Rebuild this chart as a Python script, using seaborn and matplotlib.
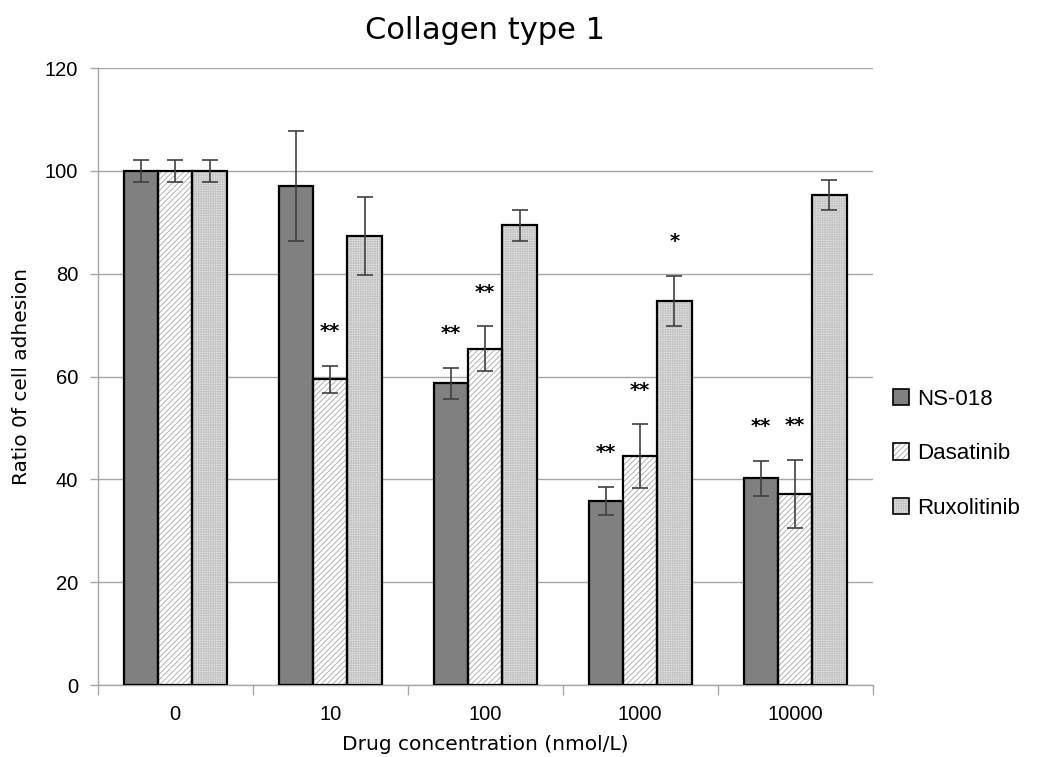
import numpy as np
import pandas as pd
import matplotlib
matplotlib.use("Agg")
import matplotlib.pyplot as plt
from matplotlib.patches import Rectangle, Patch
import seaborn as sns

# Cell adhesion on collagen type 1 (% of untreated control)
concentrations = ["0", "10", "100", "1000", "10000"]
drugs = ["NS-018", "Dasatinib", "Ruxolitinib"]
ns018 = [100.0, 97.1, 58.7, 35.8, 40.2]
dasatinib = [100.0, 59.5, 65.4, 44.5, 37.2]
ruxolitinib = [100.0, 87.4, 89.4, 74.7, 95.3]
ns018_err = [2.2, 10.7, 3.0, 2.8, 3.4]
dasatinib_err = [2.2, 2.6, 4.4, 6.2, 6.6]
ruxolitinib_err = [2.2, 7.6, 3.0, 4.9, 2.9]
# significance marks per drug and concentration
ns018_sig = ["", "", "**", "**", "**"]
dasatinib_sig = ["", "**", "**", "**", "**"]
ruxolitinib_sig = ["", "", "", "*", ""]

values = {"NS-018": ns018, "Dasatinib": dasatinib, "Ruxolitinib": ruxolitinib}
errors = {"NS-018": ns018_err, "Dasatinib": dasatinib_err, "Ruxolitinib": ruxolitinib_err}
marks = {"NS-018": ns018_sig, "Dasatinib": dasatinib_sig, "Ruxolitinib": ruxolitinib_sig}

rows = []
for d in drugs:
    for c, v in zip(concentrations, values[d]):
        rows.append({"conc": c, "drug": d, "ratio": v})
df = pd.DataFrame(rows)

sns.set_theme(style="white")
plt.rcParams["font.family"] = ["DejaVu Sans"]
plt.rcParams["text.color"] = "black"
plt.rcParams["axes.labelcolor"] = "black"
plt.rcParams["xtick.color"] = "black"
plt.rcParams["ytick.color"] = "black"
plt.rcParams["hatch.linewidth"] = 0.7

fig = plt.figure(figsize=(10.4, 7.57), dpi=100)
ax = fig.add_axes([0.094, 0.095, 0.745, 0.815])

fills = {"NS-018": "#808080", "Dasatinib": "#ffffff", "Ruxolitinib": "#e4e4e4"}
hatches = {"NS-018": None, "Dasatinib": "//////", "Ruxolitinib": "+++++++"}
hatch_cols = {"NS-018": "#808080", "Dasatinib": "#b0b0b0", "Ruxolitinib": "#c4c4c4"}

sns.barplot(data=df, x="conc", y="ratio", hue="drug", order=concentrations,
            hue_order=drugs, palette=fills, width=0.665, errorbar=None,
            saturation=1, legend=False, ax=ax, zorder=2)

# seaborn adds patches hue-by-hue
bars = [p for p in ax.patches if isinstance(p, Rectangle)]
for i, d in enumerate(drugs):
    group = bars[i * len(concentrations):(i + 1) * len(concentrations)]
    for j, p in enumerate(group):
        p.set_linewidth(0)
        if hatches[d]:
            p.set_hatch(hatches[d])
            p.set_edgecolor(hatch_cols[d])
        else:
            p.set_edgecolor(fills[d])
        ax.add_patch(Rectangle(p.get_xy(), p.get_width(), p.get_height(),
                               fill=False, edgecolor="black", linewidth=1.6, zorder=3))
        cx = p.get_x() + p.get_width() / 2
        ax.errorbar(cx, values[d][j], yerr=errors[d][j], fmt="none",
                    ecolor="#404040", elinewidth=1.2, capsize=6, capthick=1.2, zorder=4)
        if marks[d][j]:
            ax.text(cx, values[d][j] + errors[d][j] + 4.8, marks[d][j],
                    ha="center", va="bottom", fontsize=14, fontweight="bold",
                    color="black", zorder=5)

ax.set_ylim(0, 120)
ax.set_xlim(-0.5, len(concentrations) - 0.5)
ax.set_yticks(np.arange(0, 121, 20))
ax.yaxis.grid(True, color="#a6a6a6", linewidth=1.0, zorder=0)
ax.xaxis.grid(False)
ax.set_axisbelow(True)

for s in ["top", "right"]:
    ax.spines[s].set_visible(False)
for s in ["left", "bottom"]:
    ax.spines[s].set_color("#a6a6a6")
    ax.spines[s].set_linewidth(1.0)

# category-boundary ticks on x, outward ticks on y
ax.set_xticks(np.arange(len(concentrations)))
ax.set_xticks(np.arange(-0.5, len(concentrations), 1.0), minor=True)
ax.tick_params(axis="x", which="major", length=0, pad=14, labelsize=14.5,
               labelcolor="black")
ax.tick_params(axis="x", which="minor", length=7, width=1.0, color="#a6a6a6",
               direction="out", bottom=True)
ax.tick_params(axis="y", which="major", length=6, width=1.0, color="#a6a6a6",
               direction="out", left=True, pad=8, labelsize=14.5, labelcolor="black")
for lab in ax.get_xticklabels() + ax.get_yticklabels():
    lab.set_fontfamily("Liberation Sans")

ax.set_xlabel("Drug concentration (nmol/L)", fontsize=14.5, color="black", va="center")
ax.xaxis.set_label_coords(0.5, -0.097)
ax.set_ylabel("Ratio 0f cell adhesion", fontsize=14.5, color="black", va="center")
ax.yaxis.set_label_coords(-0.098, 0.5)
ax.set_title("Collagen type 1", fontsize=22, pad=21, color="black")

# legend swatches: hatched fill under a black outline
handles = [(Patch(facecolor=fills[d], edgecolor=hatch_cols[d], hatch=hatches[d], linewidth=0),
            Patch(fill=False, edgecolor="black", linewidth=1.2)) for d in drugs]
leg = ax.legend(handles, drugs, loc="center left", bbox_to_anchor=(1.0, 0.375),
                frameon=False, handlelength=0.75, handleheight=0.75,
                handletextpad=0.35, labelspacing=1.5,
                prop={"family": "Liberation Sans", "size": 16})
for t in leg.get_texts():
    t.set_color("black")

fig.savefig("out.png", dpi=100)
